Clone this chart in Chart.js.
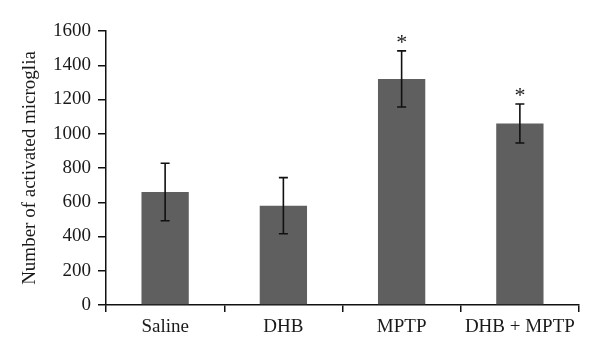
<!DOCTYPE html>
<html>
<head>
<meta charset="utf-8">
<script src="https://cdn.jsdelivr.net/npm/chart.js@4"></script>
<style>
  html, body { margin: 0; padding: 0; background: #fff; }
  #wrap { width: 600px; height: 358px; }
</style>
</head>
<body>
<div id="wrap"><canvas id="microgliaChart" width="600" height="358"></canvas></div>
<script>
// Data
const groups = ["Saline", "DHB", "MPTP", "DHB + MPTP"];
const means = [660, 580, 1320, 1060];
const sem = [168, 164, 164, 114];
const marks = ["", "", "*", "*"];
const yTicks = [0, 200, 400, 600, 800, 1000, 1200, 1400, 1600];

const serif = "'Liberation Serif', 'DejaVu Serif', serif";
const ink = "#1a1a1a";

// Error bars and significance stars
const errorBars = {
  id: "errorBars",
  afterDatasetsDraw(chart) {
    const { ctx, scales } = chart;
    const meta = chart.getDatasetMeta(0);
    ctx.save();
    ctx.strokeStyle = "#111";
    ctx.lineWidth = 1.6;
    meta.data.forEach((bar, i) => {
      const x = bar.x;
      const top = scales.y.getPixelForValue(means[i] + sem[i]);
      const bottom = scales.y.getPixelForValue(means[i] - sem[i]);
      ctx.beginPath();
      ctx.moveTo(x, top);
      ctx.lineTo(x, bottom);
      ctx.moveTo(x - 4.5, top);
      ctx.lineTo(x + 4.5, top);
      ctx.moveTo(x - 4.5, bottom);
      ctx.lineTo(x + 4.5, bottom);
      ctx.stroke();
      if (marks[i]) {
        ctx.fillStyle = ink;
        ctx.font = "22px " + serif;
        ctx.textAlign = "center";
        ctx.textBaseline = "middle";
        ctx.fillText(marks[i], x, top - 8);
      }
    });
    ctx.restore();
  }
};

const chart = new Chart(document.getElementById("microgliaChart"), {
  type: "bar",
  data: {
    labels: groups,
    datasets: [{
      data: means,
      backgroundColor: "#5f5f5f",
      borderWidth: 0,
      categoryPercentage: 1,
      barPercentage: 0.4
    }]
  },
  options: {
    responsive: false,
    animation: false,
    events: [],
    layout: { padding: { top: 31, right: 21, left: 0, bottom: 0 } },
    plugins: {
      legend: { display: false },
      tooltip: { enabled: false }
    },
    scales: {
      x: {
        grid: {
          offset: true,
          drawOnChartArea: false,
          drawTicks: true,
          tickLength: 7,
          color: "#111",
          lineWidth: 1.5
        },
        border: { color: "#111", width: 1.5 },
        ticks: {
          color: ink,
          font: { family: serif, size: 19 },
          padding: 4,
          maxRotation: 0
        },
        afterFit(scale) { scale.height = 53; }
      },
      y: {
        min: 0,
        max: 1600,
        afterBuildTicks(scale) { scale.ticks = yTicks.map(v => ({ value: v })); },
        grid: {
          drawOnChartArea: false,
          drawTicks: true,
          tickLength: 8,
          color: "#111",
          lineWidth: 1.5
        },
        border: { color: "#111", width: 1.5 },
        ticks: {
          color: ink,
          font: { family: serif, size: 19 },
          padding: 7,
          callback: v => String(v)
        },
        title: {
          display: true,
          text: "Number of activated microglia",
          color: ink,
          font: { family: serif, size: 19 },
          padding: { top: 19, bottom: 4 }
        },
        afterFit(scale) { scale.width = 106; }
      }
    }
  },
  plugins: [errorBars]
});
</script>
</body>
</html>
